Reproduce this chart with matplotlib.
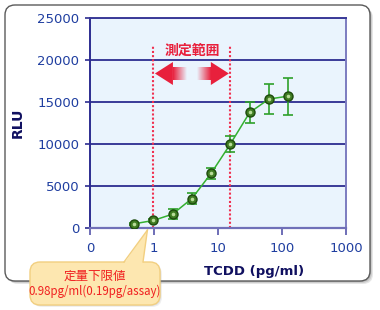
import matplotlib
matplotlib.use('Agg')
import matplotlib.pyplot as plt
import numpy as np
from matplotlib.patches import FancyBboxPatch, Polygon, Rectangle

# ---- data ----
conc = [0.49, 0.98, 1.95, 3.9, 7.8, 15.6, 31.25, 62.5, 125]
rlu = [500, 900, 1650, 3500, 6500, 10000, 13750, 15350, 15700]
err = [150, 200, 600, 700, 700, 950, 1250, 1800, 2200]
range_lo, range_hi = 0.98, 15.6
xticks = [0.1, 1, 10, 100, 1000]
xticklabels = ['0', '1', '10', '100', '1000']
yticks = [0, 5000, 10000, 15000, 20000, 25000]
range_label = '測定範囲'
lod_title = '定量下限値'
lod_text = '0.98pg/ml(0.19pg/assay)'

W, H = 380, 310
fig = plt.figure(figsize=(W / 100, H / 100), dpi=100)

# background frame (pixel coords, y downward)
bg = fig.add_axes([0, 0, 1, 1], zorder=0)
bg.set_xlim(0, W); bg.set_ylim(H, 0); bg.axis('off')
for off, a in [(3, 0.18), (2, 0.22), (1, 0.25)]:
    bg.add_patch(FancyBboxPatch((5 + off, 5 + off), 365, 276,
                                boxstyle='round,pad=0,rounding_size=10',
                                fc='#777777', ec='none', alpha=a))
bg.add_patch(FancyBboxPatch((5, 5), 365, 276, boxstyle='round,pad=0,rounding_size=10',
                            fc='white', ec='#5a5a5a', lw=1.0))

# main axes
ax = fig.add_axes([90 / W, 82 / H, 256 / W, 210 / H], zorder=1)
ax.set_facecolor('#eaf4fd')
ax.set_xscale('log')
ax.set_xlim(0.1, 1000)
ax.set_ylim(0, 25000)
ax.set_xticks(xticks)
ax.set_xticklabels(xticklabels)
ax.xaxis.set_minor_locator(matplotlib.ticker.NullLocator())
ax.set_yticks(yticks)
ax.set_yticklabels([str(v) for v in yticks])
tick_col = '#1f3ea0'
ax.tick_params(axis='y', direction='out', length=3.6, width=1.2, color='#2c2c90',
               labelsize=9.5, labelcolor=tick_col, pad=4)
ax.tick_params(axis='x', direction='out', length=5, width=1.2, color='#5555aa',
               labelsize=9.5, labelcolor=tick_col, pad=5)
ax.yaxis.grid(True, color='#3a3a98', lw=1.4)
ax.set_axisbelow(True)
ax.spines['top'].set_color('#3a3a98'); ax.spines['top'].set_linewidth(1.4)
ax.spines['left'].set_color('#2c2c90'); ax.spines['left'].set_linewidth(1.4)
ax.spines['right'].set_color('#7c7cc0'); ax.spines['right'].set_linewidth(1.4)
ax.spines['bottom'].set_color('#7070b8'); ax.spines['bottom'].set_linewidth(1.6)

# measurement range dotted lines
for xv in (range_lo, range_hi):
    ax.axvline(xv, ymin=0, ymax=(228 - 46) / 210, color='#f03050', lw=1.5,
               linestyle=(0, (1, 1)), zorder=2)

# data
ax.errorbar(conc, rlu, yerr=err, fmt='none', ecolor='#2ea02a', elinewidth=1.2,
            capsize=3.3, capthick=1.2, zorder=3)
ax.plot(conc, rlu, color='#34b030', lw=1.1, zorder=4)
ax.plot(conc, rlu, 'o', ms=6.5, mfc='#3f7c22', mec='#1d4a0c', mew=1.0, zorder=5)
ax.plot(conc, rlu, 'o', ms=2.6, mfc='#b8dc98', mec='none', zorder=6)

ax.set_xlabel('TCDD (pg/ml)', fontsize=9.5, fontweight='bold', color='#101060')
ax.xaxis.set_label_coords((254 - 90) / 256, (228 - 272) / 210)
ax.xaxis.label.set_va('center')
ax.set_ylabel('RLU', fontsize=10, fontweight='bold', color='#101060')
ax.yaxis.set_label_coords((18 - 90) / 256, 0.5)
ax.yaxis.label.set_va('center')

# overlay (pixel coords, y downward)
fig.canvas.draw()
def px(xv, yv=0):
    d = ax.transData.transform((xv, yv))
    return d[0], H - d[1]

ov = fig.add_axes([0, 0, 1, 1], zorder=3)
ov.set_xlim(0, W); ov.set_ylim(H, 0); ov.axis('off'); ov.patch.set_alpha(0)

red = '#e8203c'
lo_x, _ = px(range_lo)
hi_x, _ = px(range_hi)
yc = 73.5
# left arrow
tip = lo_x + 1.5
ov.add_patch(Polygon([(tip, yc), (tip + 18, yc - 11.5), (tip + 18, yc + 11.5)],
                     closed=True, fc=red, ec='none'))
n = 14
for i in range(n):
    ov.add_patch(Rectangle((tip + 18 + i, yc - 6.5), 1.05, 13, fc=red, ec='none',
                           alpha=max(0.0, 1 - (i + 0.5) / n)))
# right arrow
tip2 = hi_x - 1.5
ov.add_patch(Polygon([(tip2, yc), (tip2 - 18, yc - 11.5), (tip2 - 18, yc + 11.5)],
                     closed=True, fc=red, ec='none'))
for i in range(n):
    ov.add_patch(Rectangle((tip2 - 18 - i - 1.05, yc - 6.5), 1.05, 13, fc=red, ec='none',
                           alpha=max(0.0, 1 - (i + 0.5) / n)))
ov.text((lo_x + hi_x) / 2, 50.5, range_label, ha='center', va='center', fontsize=10,
        fontweight='bold', color=red, family=['Noto Sans CJK JP', 'DejaVu Sans'])

# callout
cx0, cy0, cw, ch = 30, 262, 130, 43
for off, a in [(2, 0.15), (1, 0.2)]:
    ov.add_patch(FancyBboxPatch((cx0 + off, cy0 + off), cw, ch,
                                boxstyle='round,pad=0,rounding_size=10',
                                fc='#999999', ec='none', alpha=a))
fill = '#fde7b0'
edge = '#f2cf80'
ov.add_patch(FancyBboxPatch((cx0, cy0), cw, ch, boxstyle='round,pad=0,rounding_size=10',
                            fc=fill, ec=edge, lw=1.0))
tx, ty = lo_x - 6, 230
ov.add_patch(Polygon([(124, cy0 + 1.5), (143, cy0 + 1.5), (tx, ty)], closed=True,
                     fc=fill, ec='none'))
ov.plot([124, tx], [cy0, ty], color=edge, lw=1.0)
ov.plot([143, tx], [cy0, ty], color=edge, lw=1.0)
ov.text(95, 276.5, lod_title, ha='center', va='center', fontsize=9, color='#f02020',
        family=['Noto Sans CJK JP', 'DejaVu Sans'])
ov.text(95, 291, lod_text, ha='center', va='center', fontsize=8.3, color='#f02020',
        family=['Noto Sans CJK JP', 'DejaVu Sans'])

fig.savefig('out.png', dpi=100)
